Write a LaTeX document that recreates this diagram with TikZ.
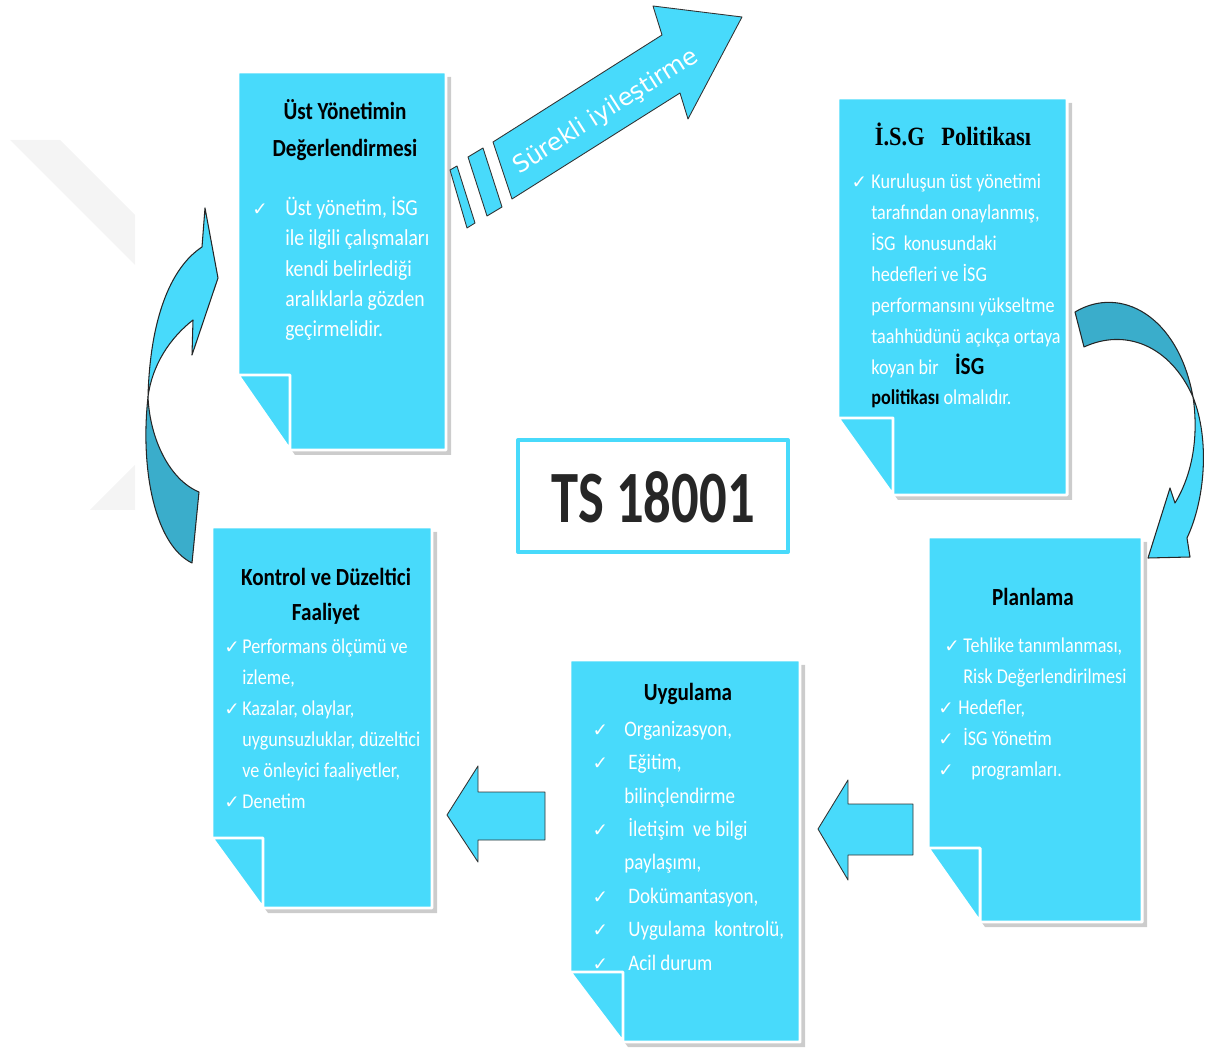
\documentclass[tikz,border=0pt]{standalone}
\usepackage{fontspec}
\setmainfont{Carlito}[FakeStretch=0.86]
\newfontfamily\tsfont{Carlito}[FakeStretch=0.74]
\newfontfamily\polfont{Liberation Serif}[FakeStretch=0.85]
\newfontfamily\symfont{DejaVu Sans}
\newfontfamily\arrowfont{DejaVu Sans}

\definecolor{notecyan}{RGB}{72,218,251}
\definecolor{notedark}{RGB}{58,173,203}
\definecolor{tsgray}{RGB}{38,38,38}

% tick in front of a list line, #1 = shift to the left
\newcommand{\chk}[1]{\rlap{\kern#1{\symfont\fontsize{10.5}{10.5}\selectfont ✓}}}

% page with folded corner: x0,y0,x1,y1, fold x, fold y
\newcommand{\drawpage}[6]{%
  \fill[gray!40] (#1+5,#2+5) -- (#3+5,#2+5) -- (#3+5,#4+5) -- (#5+5,#4+5) -- (#1+5,#6+5) -- cycle;
  \draw[notepage] (#1,#2) -- (#3,#2) -- (#3,#4) -- (#5,#4) -- (#1,#6) -- cycle;
  \draw[notepage] (#1,#6) -- (#5,#6) -- (#5,#4) -- cycle;
}

\begin{document}
\begin{tikzpicture}[x=0.02cm, y=-0.02cm, line join=round,
  notepage/.style={fill=notecyan, draw=white, line width=1.7pt},
  blockarrow/.style={fill=notecyan, draw=black!80, line width=0.5pt},
  bendarrow/.style={draw=black!85, line width=0.6pt},
  boxtitle/.style={font=\fontsize{14}{21}\selectfont\bfseries, align=center, inner sep=0pt},
  listtext/.style={text=white, align=left, anchor=base west, inner sep=0pt, font=\fontsize{12}{17.3}\selectfont}]
\useasboundingbox (0,0) rectangle (1225,1057);

% faint mark behind
\fill[gray!9] (10,140) -- (60,140) -- (135,215) -- (135,265) -- cycle;
\fill[gray!9] (90,510) -- (135,510) -- (135,465) -- cycle;

% the five pages
\drawpage{238}{72}{446}{450}{290}{375}
\drawpage{838}{98}{1067}{495}{893}{418}
\drawpage{928}{537}{1142}{922}{980}{848}
\drawpage{570}{660}{800}{1042}{623}{972}
\drawpage{212}{527}{432}{908}{263}{838}

% list nodes sit on the baseline of their last line

% Ust yonetim
\node[boxtitle] (ustT) at (345,130) {Üst Yönetimin\\Değerlendirmesi};
\node[listtext, font=\fontsize{13}{17.3}\selectfont] (ustL) at (285,337) {\chk{-18.7pt}Üst yönetim, İSG\\ile ilgili çalışmaları\\kendi belirlediği\\aralıklarla gözden\\geçirmelidir.};

% politika
\node[boxtitle, font=\fontsize{15}{15}\selectfont\bfseries\polfont] (polT) at (953,134) {İ.S.G\ \ \ Politikası};
\node[listtext, font=\fontsize{12}{17.6}\selectfont] (polL) at (871,405) {\chk{-11.3pt}Kuruluşun üst yönetimi\\tarafından onaylanmış,\\İSG\ \ konusundaki\\hedefleri ve İSG\\performansını yükseltme\\taahhüdünü açıkça ortaya\\koyan bir\ \ \ \ {\color{black}\bfseries\fontsize{14}{14}\selectfont İSG}\\{\color{black}\bfseries politikası} olmalıdır.};

% planlama
\node[boxtitle] (planT) at (1033,597) {Planlama};
\node[listtext, font=\fontsize{12}{17.6}\selectfont] (planL) at (963,776) {\chk{-10.8pt}Tehlike tanımlanması,\\Risk Değerlendirilmesi\\\chk{-14.2pt}\kern-2.8pt Hedefler,\\\chk{-14.2pt}İSG Yönetim\\\chk{-14.2pt}\kern4.5pt programları.};

% uygulama
\node[boxtitle] (uygT) at (688,694) {Uygulama};
\node[listtext, font=\fontsize{12.6}{19}\selectfont] (uygL) at (624,970) {\chk{-18.1pt}Organizasyon,\\\chk{-18.1pt}\kern2.3pt Eğitim,\\bilinçlendirme\\\chk{-18.1pt}\kern2.3pt İletişim\ \ ve bilgi\\paylaşımı,\\\chk{-18.1pt}\kern2.3pt Dokümantasyon,\\\chk{-18.1pt}\kern2.3pt Uygulama\ \ kontrolü,\\\chk{-18.1pt}\kern2.3pt Acil durum};

% kontrol
\node[boxtitle, font=\fontsize{14}{19.8}\selectfont\bfseries] (konT) at (326,596) {Kontrol ve Düzeltici\\Faaliyet};
\node[listtext, font=\fontsize{12}{17.6}\selectfont] (konL) at (242,808) {\chk{-10.2pt}Performans ölçümü ve\\izleme,\\\chk{-10.2pt}Kazalar, olaylar,\\uygunsuzluklar, düzeltici\\ve önleyici faaliyetler,\\\chk{-10.2pt}Denetim};

% centre
\draw[notecyan, line width=2.3pt, fill=white] (518,440) rectangle (788,552);
\node[font=\fontsize{42}{42}\selectfont\bfseries\tsfont, text=tsgray] (ts) at (653,497) {TS 18001};

% block arrows between the pages
\draw[blockarrow] (545,792) -- (478,792) -- (478,766) -- (447,815) -- (478,862) -- (478,840) -- (545,840) -- cycle;
\draw[blockarrow] (913,804) -- (848,804) -- (848,780) -- (818,829) -- (848,880) -- (848,855) -- (913,855) -- cycle;

% improvement arrow
\draw[blockarrow] (467,228) -- (450,170) -- (457,166) -- (475,223) -- cycle;
\draw[blockarrow] (487,216) -- (468,157) -- (483,148) -- (502,207) -- cycle;
\draw[blockarrow] (512,199) -- (493,142) -- (662,35) -- (653,6) -- (742,17) -- (688,119) -- (680,93) -- cycle;
\node[text=white, rotate=32.3, font=\fontsize{13.6}{13.6}\selectfont\arrowfont] (sur) at (606,112) {Sürekli iyileştirme};

% left bent arrow
\draw[bendarrow, fill=notedark] (148,397) .. controls (140,470) and (155,545) .. (192,563) -- (199,492) .. controls (170,480) and (150,440) .. (148,397) -- cycle;
\draw[bendarrow, fill=notecyan] (148,397) .. controls (150,320) and (170,268) .. (202,247) -- (205,208) -- (218,278) -- (192,355) -- (193,320) .. controls (170,338) and (152,365) .. (148,397) -- cycle;

% right bent arrow
\draw[bendarrow, fill=notedark] (1075,312) .. controls (1120,285) and (1178,315) .. (1193,397) .. controls (1170,345) and (1125,328) .. (1084,347) -- cycle;
\draw[bendarrow, fill=notecyan] (1193,397) .. controls (1210,440) and (1205,500) .. (1187,538) -- (1190,557) -- (1148,558) -- (1170,488) -- (1175,503) .. controls (1195,470) and (1198,430) .. (1193,397) -- cycle;
\end{tikzpicture}
\end{document}
